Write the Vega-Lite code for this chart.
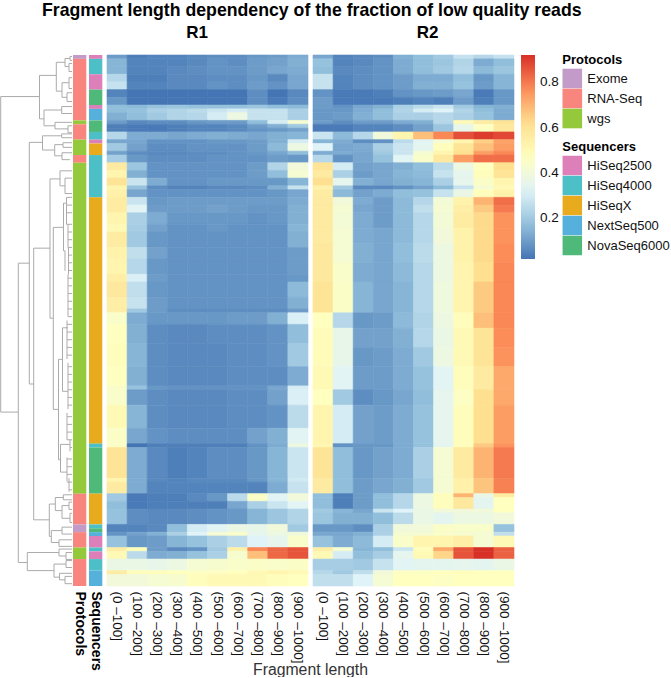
{
"$schema":"https://vega.github.io/schema/vega-lite/v6.json",
"padding":{"top":2,"left":0,"right":0,"bottom":0},
"background":"white",
"title":{"text":"Fragment length dependency of the fraction of low quality reads","font":"Liberation Sans","fontSize":17.7,"fontWeight":"bold","anchor":"start","frame":"bounds","dx":42,"offset":4,"color":"#000"},
"config":{"view":{"stroke":null},"font":"Liberation Sans","axis":{"labelFont":"Liberation Sans","titleFont":"Liberation Sans"},"legend":{"labelFont":"Liberation Sans","titleFont":"Liberation Sans"}},
"datasets":{
"R1":[
{"r0":0,"r1":1,"100":0.10,"200":0.04,"300":0.05,"400":0.05,"500":0.06,"600":0.07,"700":0.07,"800":0.09,"900":0.10,"1000":0.13},
{"r0":1,"r1":3,"100":0.15,"200":0.05,"300":0.05,"400":0.05,"500":0.06,"600":0.08,"700":0.07,"800":0.10,"900":0.11,"1000":0.14},
{"r0":3,"r1":5,"100":0.15,"200":0.05,"300":0.05,"400":0.06,"500":0.07,"600":0.08,"700":0.08,"800":0.10,"900":0.12,"1000":0.13},
{"r0":5,"r1":7,"100":0.24,"200":0.04,"300":0.04,"400":0.06,"500":0.06,"600":0.07,"700":0.07,"800":0.09,"900":0.06,"1000":0.12},
{"r0":7,"r1":9,"100":0.27,"200":0.05,"300":0.05,"400":0.06,"500":0.06,"600":0.08,"700":0.07,"800":0.10,"900":0.08,"1000":0.12},
{"r0":9,"r1":11,"100":0.05,"200":0.02,"300":0.02,"400":0.02,"500":0.02,"600":0.02,"700":0.02,"800":0.07,"900":0.02,"1000":0.06},
{"r0":11,"r1":13,"100":0.09,"200":0.02,"300":0.02,"400":0.02,"500":0.02,"600":0.02,"700":0.02,"800":0.07,"900":0.03,"1000":0.07},
{"r0":13,"r1":14,"100":0.17,"200":0.16,"300":0.18,"400":0.19,"500":0.18,"600":0.18,"700":0.18,"800":0.19,"900":0.17,"1000":0.16},
{"r0":14,"r1":15,"100":0.17,"200":0.18,"300":0.22,"400":0.23,"500":0.25,"600":0.28,"700":0.30,"800":0.27,"900":0.27,"1000":0.22},
{"r0":15,"r1":17,"100":0.14,"200":0.17,"300":0.20,"400":0.23,"500":0.24,"600":0.30,"700":0.38,"800":0.27,"900":0.27,"1000":0.22},
{"r0":17,"r1":18,"100":0.10,"200":0.06,"300":0.07,"400":0.07,"500":0.09,"600":0.10,"700":0.10,"800":0.17,"900":0.30,"1000":0.42},
{"r0":18,"r1":19,"100":0.04,"200":0.03,"300":0.03,"400":0.04,"500":0.05,"600":0.05,"700":0.06,"800":0.10,"900":0.14,"1000":0.20},
{"r0":19,"r1":20,"100":0.04,"200":0.03,"300":0.03,"400":0.04,"500":0.05,"600":0.05,"700":0.06,"800":0.08,"900":0.09,"1000":0.11},
{"r0":20,"r1":22,"100":0.24,"200":0.13,"300":0.13,"400":0.12,"500":0.13,"600":0.14,"700":0.13,"800":0.12,"900":0.14,"1000":0.15},
{"r0":22,"r1":23,"100":0.12,"200":0.12,"300":0.08,"400":0.08,"500":0.08,"600":0.09,"700":0.09,"800":0.10,"900":0.14,"1000":0.30},
{"r0":23,"r1":25,"100":0.20,"200":0.11,"300":0.07,"400":0.07,"500":0.08,"600":0.08,"700":0.08,"800":0.10,"900":0.16,"1000":0.38},
{"r0":25,"r1":26,"100":0.11,"200":0.07,"300":0.06,"400":0.06,"500":0.07,"600":0.07,"700":0.08,"800":0.09,"900":0.12,"1000":0.17},
{"r0":26,"r1":28,"100":0.21,"200":0.09,"300":0.07,"400":0.07,"500":0.07,"600":0.08,"700":0.08,"800":0.08,"900":0.10,"1000":0.09},
{"r0":28,"r1":30,"100":0.57,"200":0.19,"300":0.08,"400":0.08,"500":0.08,"600":0.08,"700":0.08,"800":0.10,"900":0.23,"1000":0.40},
{"r0":30,"r1":32,"100":0.52,"200":0.14,"300":0.08,"400":0.08,"500":0.08,"600":0.08,"700":0.08,"800":0.10,"900":0.17,"1000":0.42},
{"r0":32,"r1":34,"100":0.60,"200":0.28,"300":0.13,"400":0.08,"500":0.08,"600":0.09,"700":0.09,"800":0.09,"900":0.09,"1000":0.15},
{"r0":34,"r1":35,"100":0.52,"200":0.18,"300":0.07,"400":0.05,"500":0.05,"600":0.06,"700":0.06,"800":0.07,"900":0.14,"1000":0.27},
{"r0":35,"r1":37,"100":0.54,"200":0.12,"300":0.08,"400":0.08,"500":0.08,"600":0.08,"700":0.08,"800":0.08,"900":0.09,"1000":0.12},
{"r0":37,"r1":39,"100":0.56,"200":0.28,"300":0.09,"400":0.10,"500":0.10,"600":0.10,"700":0.10,"800":0.10,"900":0.10,"1000":0.13},
{"r0":39,"r1":41,"100":0.56,"200":0.33,"300":0.10,"400":0.10,"500":0.10,"600":0.11,"700":0.10,"800":0.09,"900":0.09,"1000":0.14},
{"r0":41,"r1":44,"100":0.52,"200":0.22,"300":0.13,"400":0.09,"500":0.09,"600":0.09,"700":0.09,"800":0.08,"900":0.09,"1000":0.14},
{"r0":44,"r1":46,"100":0.50,"200":0.21,"300":0.11,"400":0.08,"500":0.08,"600":0.09,"700":0.08,"800":0.08,"900":0.08,"1000":0.15},
{"r0":46,"r1":50,"100":0.56,"200":0.20,"300":0.09,"400":0.08,"500":0.08,"600":0.08,"700":0.08,"800":0.08,"900":0.08,"1000":0.14},
{"r0":50,"r1":53,"100":0.53,"200":0.26,"300":0.11,"400":0.08,"500":0.08,"600":0.08,"700":0.08,"800":0.08,"900":0.08,"1000":0.10},
{"r0":53,"r1":57,"100":0.52,"200":0.24,"300":0.09,"400":0.08,"500":0.08,"600":0.08,"700":0.08,"800":0.08,"900":0.08,"1000":0.10},
{"r0":57,"r1":59,"100":0.55,"200":0.31,"300":0.10,"400":0.08,"500":0.08,"600":0.08,"700":0.08,"800":0.08,"900":0.08,"1000":0.09},
{"r0":59,"r1":63,"100":0.58,"200":0.26,"300":0.09,"400":0.08,"500":0.08,"600":0.08,"700":0.08,"800":0.08,"900":0.08,"1000":0.16},
{"r0":63,"r1":66,"100":0.55,"200":0.27,"300":0.10,"400":0.08,"500":0.08,"600":0.08,"700":0.08,"800":0.08,"900":0.08,"1000":0.14},
{"r0":66,"r1":67,"100":0.55,"200":0.20,"300":0.10,"400":0.07,"500":0.07,"600":0.07,"700":0.07,"800":0.07,"900":0.07,"1000":0.10},
{"r0":67,"r1":70,"100":0.44,"200":0.13,"300":0.09,"400":0.09,"500":0.09,"600":0.09,"700":0.10,"800":0.10,"900":0.14,"1000":0.31},
{"r0":70,"r1":75,"100":0.47,"200":0.14,"300":0.07,"400":0.06,"500":0.06,"600":0.07,"700":0.07,"800":0.07,"900":0.08,"1000":0.17},
{"r0":75,"r1":81,"100":0.48,"200":0.15,"300":0.07,"400":0.06,"500":0.06,"600":0.06,"700":0.07,"800":0.07,"900":0.08,"1000":0.20},
{"r0":81,"r1":86,"100":0.47,"200":0.14,"300":0.07,"400":0.06,"500":0.06,"600":0.06,"700":0.07,"800":0.07,"900":0.07,"1000":0.13},
{"r0":86,"r1":87,"100":0.44,"200":0.18,"300":0.09,"400":0.08,"500":0.08,"600":0.08,"700":0.08,"800":0.08,"900":0.12,"1000":0.30},
{"r0":87,"r1":91,"100":0.44,"200":0.10,"300":0.07,"400":0.06,"500":0.06,"600":0.06,"700":0.07,"800":0.07,"900":0.11,"1000":0.31},
{"r0":91,"r1":97,"100":0.50,"200":0.15,"300":0.07,"400":0.06,"500":0.06,"600":0.06,"700":0.07,"800":0.07,"900":0.08,"1000":0.25},
{"r0":97,"r1":101,"100":0.45,"200":0.12,"300":0.08,"400":0.07,"500":0.07,"600":0.07,"700":0.07,"800":0.11,"900":0.14,"1000":0.33},
{"r0":101,"r1":102,"100":0.45,"200":0.02,"300":0.04,"400":0.04,"500":0.04,"600":0.04,"700":0.04,"800":0.08,"900":0.13,"1000":0.38},
{"r0":102,"r1":110,"100":0.60,"200":0.13,"300":0.06,"400":0.04,"500":0.05,"600":0.07,"700":0.07,"800":0.09,"900":0.15,"1000":0.28},
{"r0":110,"r1":111,"100":0.52,"200":0.13,"300":0.06,"400":0.05,"500":0.06,"600":0.06,"700":0.06,"800":0.09,"900":0.15,"1000":0.29},
{"r0":111,"r1":114,"100":0.57,"200":0.13,"300":0.05,"400":0.05,"500":0.05,"600":0.05,"700":0.05,"800":0.05,"900":0.13,"1000":0.27},
{"r0":114,"r1":116,"100":0.20,"200":0.03,"300":0.04,"400":0.04,"500":0.06,"600":0.09,"700":0.25,"800":0.45,"900":0.33,"1000":0.40},
{"r0":116,"r1":118,"100":0.17,"200":0.03,"300":0.04,"400":0.04,"500":0.04,"600":0.04,"700":0.12,"800":0.22,"900":0.28,"1000":0.33},
{"r0":118,"r1":122,"100":0.18,"200":0.07,"300":0.06,"400":0.06,"500":0.07,"600":0.08,"700":0.09,"800":0.15,"900":0.19,"1000":0.23},
{"r0":122,"r1":124,"100":0.05,"200":0.05,"300":0.06,"400":0.17,"500":0.30,"600":0.33,"700":0.37,"800":0.36,"900":0.40,"1000":0.20},
{"r0":124,"r1":125,"100":0.08,"200":0.11,"300":0.14,"400":0.22,"500":0.32,"600":0.42,"700":0.44,"800":0.35,"900":0.38,"1000":0.40},
{"r0":125,"r1":128,"100":0.18,"200":0.09,"300":0.10,"400":0.15,"500":0.18,"600":0.22,"700":0.25,"800":0.32,"900":0.35,"1000":0.44},
{"r0":128,"r1":129,"100":0.55,"200":0.48,"300":0.10,"400":0.06,"500":0.08,"600":0.20,"700":0.54,"800":0.78,"900":0.83,"1000":0.86},
{"r0":129,"r1":131,"100":0.50,"200":0.25,"300":0.13,"400":0.14,"500":0.18,"600":0.22,"700":0.43,"800":0.68,"900":0.83,"1000":0.86},
{"r0":131,"r1":134,"100":0.37,"200":0.37,"300":0.36,"400":0.38,"500":0.42,"600":0.43,"700":0.44,"800":0.45,"900":0.44,"1000":0.45},
{"r0":134,"r1":135,"100":0.56,"200":0.48,"300":0.48,"400":0.47,"500":0.46,"600":0.46,"700":0.47,"800":0.50,"900":0.52,"1000":0.50},
{"r0":135,"r1":138,"100":0.40,"200":0.40,"300":0.42,"400":0.43,"500":0.48,"600":0.50,"700":0.50,"800":0.50,"900":0.48,"1000":0.47}
],
"R2":[
{"r0":0,"r1":1,"100":0.12,"200":0.05,"300":0.06,"400":0.07,"500":0.14,"600":0.17,"700":0.20,"800":0.27,"900":0.24,"1000":0.27},
{"r0":1,"r1":3,"100":0.18,"200":0.05,"300":0.06,"400":0.08,"500":0.13,"600":0.17,"700":0.19,"800":0.23,"900":0.13,"1000":0.17},
{"r0":3,"r1":5,"100":0.17,"200":0.06,"300":0.07,"400":0.08,"500":0.13,"600":0.17,"700":0.20,"800":0.24,"900":0.16,"1000":0.19},
{"r0":5,"r1":7,"100":0.27,"200":0.05,"300":0.07,"400":0.08,"500":0.10,"600":0.13,"700":0.13,"800":0.17,"900":0.09,"1000":0.15},
{"r0":7,"r1":9,"100":0.27,"200":0.05,"300":0.07,"400":0.08,"500":0.10,"600":0.14,"700":0.14,"800":0.18,"900":0.10,"1000":0.15},
{"r0":9,"r1":11,"100":0.08,"200":0.03,"300":0.03,"400":0.04,"500":0.08,"600":0.09,"700":0.10,"800":0.12,"900":0.03,"1000":0.09},
{"r0":11,"r1":13,"100":0.10,"200":0.03,"300":0.03,"400":0.03,"500":0.04,"600":0.05,"700":0.04,"800":0.10,"900":0.04,"1000":0.09},
{"r0":13,"r1":14,"100":0.10,"200":0.08,"300":0.12,"400":0.14,"500":0.22,"600":0.25,"700":0.28,"800":0.20,"900":0.15,"1000":0.14},
{"r0":14,"r1":15,"100":0.09,"200":0.09,"300":0.13,"400":0.17,"500":0.23,"600":0.30,"700":0.32,"800":0.23,"900":0.17,"1000":0.13},
{"r0":15,"r1":17,"100":0.09,"200":0.10,"300":0.14,"400":0.17,"500":0.22,"600":0.22,"700":0.24,"800":0.22,"900":0.18,"1000":0.13},
{"r0":17,"r1":18,"100":0.10,"200":0.07,"300":0.10,"400":0.10,"500":0.13,"600":0.14,"700":0.24,"800":0.50,"900":0.56,"1000":0.60},
{"r0":18,"r1":20,"100":0.03,"200":0.03,"300":0.05,"400":0.05,"500":0.07,"600":0.11,"700":0.19,"800":0.36,"900":0.46,"1000":0.58},
{"r0":20,"r1":22,"100":0.28,"200":0.16,"300":0.24,"400":0.40,"500":0.52,"600":0.68,"700":0.78,"800":0.87,"900":0.90,"1000":0.88},
{"r0":22,"r1":23,"100":0.15,"200":0.13,"300":0.07,"400":0.08,"500":0.25,"600":0.33,"700":0.42,"800":0.52,"900":0.65,"1000":0.73},
{"r0":23,"r1":25,"100":0.32,"200":0.12,"300":0.13,"400":0.22,"500":0.28,"600":0.34,"700":0.48,"800":0.60,"900":0.68,"1000":0.74},
{"r0":25,"r1":26,"100":0.13,"200":0.13,"300":0.12,"400":0.20,"500":0.28,"600":0.42,"700":0.52,"800":0.62,"900":0.74,"1000":0.78},
{"r0":26,"r1":28,"100":0.24,"200":0.08,"300":0.12,"400":0.18,"500":0.33,"600":0.44,"700":0.58,"800":0.74,"900":0.82,"1000":0.82},
{"r0":28,"r1":30,"100":0.60,"200":0.30,"300":0.11,"400":0.12,"500":0.14,"600":0.17,"700":0.25,"800":0.38,"900":0.47,"1000":0.62},
{"r0":30,"r1":32,"100":0.57,"200":0.22,"300":0.10,"400":0.12,"500":0.15,"600":0.16,"700":0.27,"800":0.35,"900":0.48,"1000":0.60},
{"r0":32,"r1":34,"100":0.62,"200":0.35,"300":0.14,"400":0.12,"500":0.14,"600":0.15,"700":0.22,"800":0.35,"900":0.45,"1000":0.52},
{"r0":34,"r1":35,"100":0.54,"200":0.20,"300":0.06,"400":0.06,"500":0.08,"600":0.11,"700":0.16,"800":0.27,"900":0.42,"1000":0.50},
{"r0":35,"r1":37,"100":0.56,"200":0.16,"300":0.11,"400":0.13,"500":0.17,"600":0.18,"700":0.27,"800":0.37,"900":0.48,"1000":0.53},
{"r0":37,"r1":39,"100":0.57,"200":0.40,"300":0.13,"400":0.10,"500":0.16,"600":0.24,"700":0.41,"800":0.53,"900":0.70,"1000":0.82},
{"r0":39,"r1":41,"100":0.57,"200":0.42,"300":0.12,"400":0.10,"500":0.16,"600":0.26,"700":0.42,"800":0.55,"900":0.66,"1000":0.80},
{"r0":41,"r1":45,"100":0.57,"200":0.41,"300":0.13,"400":0.10,"500":0.16,"600":0.24,"700":0.41,"800":0.56,"900":0.63,"1000":0.76},
{"r0":45,"r1":49,"100":0.57,"200":0.42,"300":0.13,"400":0.12,"500":0.16,"600":0.24,"700":0.40,"800":0.53,"900":0.63,"1000":0.76},
{"r0":49,"r1":54,"100":0.58,"200":0.42,"300":0.14,"400":0.12,"500":0.17,"600":0.25,"700":0.38,"800":0.53,"900":0.63,"1000":0.77},
{"r0":54,"r1":59,"100":0.58,"200":0.44,"300":0.13,"400":0.12,"500":0.16,"600":0.24,"700":0.38,"800":0.52,"900":0.62,"1000":0.78},
{"r0":59,"r1":67,"100":0.60,"200":0.45,"300":0.15,"400":0.12,"500":0.15,"600":0.24,"700":0.39,"800":0.52,"900":0.66,"1000":0.78},
{"r0":67,"r1":71,"100":0.47,"200":0.24,"300":0.09,"400":0.10,"500":0.16,"600":0.23,"700":0.38,"800":0.48,"900":0.68,"1000":0.78},
{"r0":71,"r1":76,"100":0.49,"200":0.36,"300":0.11,"400":0.11,"500":0.14,"600":0.24,"700":0.37,"800":0.50,"900":0.60,"1000":0.77},
{"r0":76,"r1":81,"100":0.49,"200":0.36,"300":0.09,"400":0.10,"500":0.13,"600":0.20,"700":0.38,"800":0.50,"900":0.60,"1000":0.76},
{"r0":81,"r1":87,"100":0.50,"200":0.33,"300":0.10,"400":0.10,"500":0.13,"600":0.18,"700":0.33,"800":0.48,"900":0.57,"1000":0.72},
{"r0":87,"r1":91,"100":0.47,"200":0.20,"300":0.07,"400":0.09,"500":0.12,"600":0.17,"700":0.35,"800":0.46,"900":0.62,"1000":0.72},
{"r0":91,"r1":101,"100":0.52,"200":0.30,"300":0.11,"400":0.10,"500":0.13,"600":0.18,"700":0.35,"800":0.48,"900":0.62,"1000":0.74},
{"r0":101,"r1":102,"100":0.51,"200":0.08,"300":0.09,"400":0.09,"500":0.13,"600":0.18,"700":0.34,"800":0.48,"900":0.66,"1000":0.76},
{"r0":102,"r1":110,"100":0.60,"200":0.17,"300":0.09,"400":0.11,"500":0.13,"600":0.22,"700":0.42,"800":0.57,"900":0.70,"1000":0.80},
{"r0":110,"r1":114,"100":0.57,"200":0.17,"300":0.10,"400":0.12,"500":0.14,"600":0.20,"700":0.42,"800":0.54,"900":0.67,"1000":0.79},
{"r0":114,"r1":115,"100":0.17,"200":0.04,"300":0.10,"400":0.17,"500":0.24,"600":0.38,"700":0.48,"800":0.70,"900":0.37,"1000":0.56},
{"r0":115,"r1":118,"100":0.17,"200":0.04,"300":0.10,"400":0.17,"500":0.24,"600":0.38,"700":0.48,"800":0.58,"900":0.34,"1000":0.47},
{"r0":118,"r1":119,"100":0.20,"200":0.15,"300":0.12,"400":0.28,"500":0.32,"600":0.37,"700":0.40,"800":0.40,"900":0.40,"1000":0.47},
{"r0":119,"r1":122,"100":0.19,"200":0.14,"300":0.14,"400":0.17,"500":0.25,"600":0.37,"700":0.34,"800":0.38,"900":0.38,"1000":0.40},
{"r0":122,"r1":124,"100":0.09,"200":0.09,"300":0.07,"400":0.22,"500":0.40,"600":0.40,"700":0.45,"800":0.44,"900":0.44,"1000":0.18},
{"r0":124,"r1":125,"100":0.12,"200":0.12,"300":0.14,"400":0.22,"500":0.42,"600":0.42,"700":0.44,"800":0.43,"900":0.42,"1000":0.26},
{"r0":125,"r1":128,"100":0.18,"200":0.13,"300":0.16,"400":0.30,"500":0.44,"600":0.52,"700":0.52,"800":0.55,"900":0.42,"1000":0.50},
{"r0":128,"r1":129,"100":0.55,"200":0.42,"300":0.15,"400":0.17,"500":0.28,"600":0.48,"700":0.72,"800":0.86,"900":0.92,"1000":0.84},
{"r0":129,"r1":131,"100":0.50,"200":0.30,"300":0.17,"400":0.21,"500":0.35,"600":0.50,"700":0.64,"800":0.86,"900":0.92,"1000":0.84},
{"r0":131,"r1":134,"100":0.21,"200":0.21,"300":0.20,"400":0.27,"500":0.33,"600":0.34,"700":0.34,"800":0.35,"900":0.34,"1000":0.37},
{"r0":134,"r1":135,"100":0.24,"200":0.20,"300":0.26,"400":0.40,"500":0.46,"600":0.46,"700":0.47,"800":0.48,"900":0.47,"1000":0.47},
{"r0":135,"r1":138,"100":0.26,"200":0.26,"300":0.32,"400":0.42,"500":0.47,"600":0.47,"700":0.46,"800":0.47,"900":0.47,"1000":0.47}
],
"protocols":[
{"r0":0,"r1":1,"track":"Protocols","cat":"Exome"},
{"r0":1,"r1":17,"track":"Protocols","cat":"RNA-Seq"},
{"r0":17,"r1":18,"track":"Protocols","cat":"wgs"},
{"r0":18,"r1":22,"track":"Protocols","cat":"RNA-Seq"},
{"r0":22,"r1":26,"track":"Protocols","cat":"wgs"},
{"r0":26,"r1":28,"track":"Protocols","cat":"RNA-Seq"},
{"r0":28,"r1":114,"track":"Protocols","cat":"wgs"},
{"r0":114,"r1":122,"track":"Protocols","cat":"RNA-Seq"},
{"r0":122,"r1":124,"track":"Protocols","cat":"Exome"},
{"r0":124,"r1":128,"track":"Protocols","cat":"RNA-Seq"},
{"r0":128,"r1":131,"track":"Protocols","cat":"wgs"},
{"r0":131,"r1":138,"track":"Protocols","cat":"RNA-Seq"}
],
"sequencers":[
{"r0":0,"r1":1,"track":"Sequencers","cat":"HiSeq2500"},
{"r0":1,"r1":5,"track":"Sequencers","cat":"HiSeq4000"},
{"r0":5,"r1":9,"track":"Sequencers","cat":"HiSeq2500"},
{"r0":9,"r1":13,"track":"Sequencers","cat":"NovaSeq6000"},
{"r0":13,"r1":14,"track":"Sequencers","cat":"HiSeq2500"},
{"r0":14,"r1":17,"track":"Sequencers","cat":"NextSeq500"},
{"r0":17,"r1":20,"track":"Sequencers","cat":"NovaSeq6000"},
{"r0":20,"r1":22,"track":"Sequencers","cat":"HiSeq4000"},
{"r0":22,"r1":23,"track":"Sequencers","cat":"HiSeq2500"},
{"r0":23,"r1":26,"track":"Sequencers","cat":"HiSeqX"},
{"r0":26,"r1":37,"track":"Sequencers","cat":"HiSeq4000"},
{"r0":37,"r1":101,"track":"Sequencers","cat":"HiSeqX"},
{"r0":101,"r1":102,"track":"Sequencers","cat":"HiSeq4000"},
{"r0":102,"r1":114,"track":"Sequencers","cat":"NovaSeq6000"},
{"r0":114,"r1":122,"track":"Sequencers","cat":"HiSeqX"},
{"r0":122,"r1":123,"track":"Sequencers","cat":"HiSeq4000"},
{"r0":123,"r1":124,"track":"Sequencers","cat":"NovaSeq6000"},
{"r0":124,"r1":125,"track":"Sequencers","cat":"NextSeq500"},
{"r0":125,"r1":128,"track":"Sequencers","cat":"HiSeq2500"},
{"r0":128,"r1":129,"track":"Sequencers","cat":"HiSeq4000"},
{"r0":129,"r1":131,"track":"Sequencers","cat":"HiSeq2500"},
{"r0":131,"r1":134,"track":"Sequencers","cat":"HiSeq4000"},
{"r0":134,"r1":138,"track":"Sequencers","cat":"NextSeq500"}
],
"dendro":[
{"h":71.3,"h2":71.3,"r":10.8,"r2":92.8},{"h":71.3,"h2":32.5,"r":10.8,"r2":10.8},{"h":71.3,"h2":53.7,"r":92.8,"r2":92.8},
{"h":32.5,"h2":32.5,"r":5.3,"r2":16.6},{"h":32.5,"h2":15.7,"r":5.3,"r2":5.3},{"h":15.7,"h2":15.7,"r":1.9,"r2":9.4},
{"h":15.7,"h2":7,"r":1.9,"r2":1.9},{"h":7,"h2":7,"r":0.9,"r2":3},{"h":7,"h2":2,"r":0.9,"r2":0.9},{"h":2,"h2":2,"r":0.4,"r2":1.4},{"h":2,"h2":0,"r":0.4,"r2":0.4},{"h":2,"h2":0,"r":1.4,"r2":1.4},
{"h":7,"h2":3,"r":3,"r2":3},{"h":3,"h2":3,"r":2.2,"r2":4.3},{"h":3,"h2":0,"r":2.2,"r2":2.2},{"h":3,"h2":0,"r":4.3,"r2":4.3},
{"h":15.7,"h2":10,"r":9.4,"r2":9.4},{"h":10,"h2":10,"r":7.2,"r2":11},{"h":10,"h2":3,"r":7.2,"r2":7.2},{"h":3,"h2":3,"r":5.9,"r2":8.7},{"h":3,"h2":0,"r":5.9,"r2":5.9},{"h":3,"h2":0,"r":8.7,"r2":8.7},
{"h":10,"h2":5,"r":11,"r2":11},{"h":5,"h2":5,"r":9.8,"r2":12.1},{"h":5,"h2":0,"r":9.8,"r2":9.8},{"h":5,"h2":0,"r":12.1,"r2":12.1},
{"h":32.5,"h2":28,"r":16.6,"r2":16.6},{"h":28,"h2":28,"r":14.3,"r2":18.4},{"h":28,"h2":10.3,"r":14.3,"r2":14.3},{"h":10.3,"h2":10.3,"r":13.4,"r2":15.2},{"h":10.3,"h2":0,"r":13.4,"r2":13.4},{"h":10.3,"h2":0,"r":15.2,"r2":15.2},
{"h":28,"h2":17,"r":18.4,"r2":18.4},{"h":17,"h2":17,"r":17.5,"r2":19.2},{"h":17,"h2":0,"r":17.5,"r2":17.5},{"h":17,"h2":4,"r":19.2,"r2":19.2},{"h":4,"h2":4,"r":18.4,"r2":20.2},{"h":4,"h2":0,"r":18.4,"r2":18.4},{"h":4,"h2":0,"r":20.2,"r2":20.2},
{"h":53.7,"h2":53.7,"r":54.1,"r2":131.9},{"h":53.7,"h2":42.7,"r":54.1,"r2":54.1},{"h":42.7,"h2":42.7,"r":22.7,"r2":85.5},
{"h":42.7,"h2":29.5,"r":22.7,"r2":22.7},{"h":29.5,"h2":29.5,"r":21,"r2":24.7},{"h":29.5,"h2":10.3,"r":21,"r2":21},{"h":10.3,"h2":10.3,"r":20.5,"r2":21.5},{"h":10.3,"h2":0,"r":20.5,"r2":20.5},{"h":10.3,"h2":0,"r":21.5,"r2":21.5},
{"h":29.5,"h2":17.3,"r":24.7,"r2":24.7},{"h":17.3,"h2":17.3,"r":23.3,"r2":26.2},{"h":17.3,"h2":9,"r":23.3,"r2":23.3},{"h":9,"h2":9,"r":22.8,"r2":24},{"h":9,"h2":0,"r":22.8,"r2":22.8},{"h":9,"h2":0,"r":24,"r2":24},
{"h":17.3,"h2":10,"r":26.2,"r2":26.2},{"h":10,"h2":10,"r":25.4,"r2":27.2},{"h":10,"h2":0,"r":25.4,"r2":25.4},{"h":10,"h2":2,"r":27.2,"r2":27.2},
{"h":42.7,"h2":38.3,"r":85.5,"r2":85.5},{"h":38.3,"h2":38.3,"r":50.2,"r2":120.8},{"h":38.3,"h2":22,"r":50.2,"r2":50.2},{"h":22,"h2":22,"r":32.2,"r2":68.4},
{"h":22,"h2":12,"r":32.2,"r2":32.2},{"h":12,"h2":12,"r":30.1,"r2":34},{"h":12,"h2":0,"r":30.1,"r2":30.1},{"h":12,"h2":7,"r":34,"r2":34},{"h":7,"h2":7,"r":32,"r2":36},{"h":7,"h2":0,"r":32,"r2":32},{"h":7,"h2":0,"r":36,"r2":36},
{"h":22,"h2":18.7,"r":68.4,"r2":68.4},{"h":18.7,"h2":18.7,"r":44.8,"r2":92.1},{"h":18.7,"h2":8.5,"r":44.8,"r2":44.8},{"h":8.5,"h2":8.5,"r":38.5,"r2":50.9},{"h":8.5,"h2":5.5,"r":38.5,"r2":38.5},{"h":8.5,"h2":7,"r":50.9,"r2":50.9},{"h":7,"h2":7,"r":50.9,"r2":56.1},
{"h":18.7,"h2":13.5,"r":92.1,"r2":92.1},{"h":13.5,"h2":13.5,"r":79.1,"r2":105.2},{"h":13.5,"h2":9.5,"r":79.1,"r2":79.1},{"h":9.5,"h2":9.5,"r":70.9,"r2":87.4},{"h":13.5,"h2":11.5,"r":105.2,"r2":105.2},{"h":11.5,"h2":11.5,"r":101.2,"r2":108.4},{"h":11.5,"h2":2,"r":101.2,"r2":101.2},{"h":11.5,"h2":5,"r":108.4,"r2":108.4},{"h":5,"h2":5,"r":104.6,"r2":110.8},
{"h":5.5,"h2":5.5,"r":37,"r2":44},{"h":5.5,"h2":0,"r":37,"r2":37},{"h":5.5,"h2":0,"r":39,"r2":39},{"h":5.5,"h2":0,"r":41,"r2":41},{"h":5.5,"h2":0,"r":44,"r2":44},
{"h":4,"h2":4,"r":44,"r2":50},{"h":4,"h2":0,"r":46,"r2":46},{"h":4,"h2":0,"r":48,"r2":48},{"h":4,"h2":0,"r":50,"r2":50},
{"h":3.5,"h2":3.5,"r":50,"r2":57},{"h":3.5,"h2":0,"r":52,"r2":52},{"h":3.5,"h2":0,"r":54,"r2":54},{"h":3.5,"h2":0,"r":56,"r2":56},
{"h":4,"h2":4,"r":57,"r2":68},{"h":4,"h2":0,"r":58,"r2":58},{"h":4,"h2":0,"r":60,"r2":60},{"h":4,"h2":0,"r":62,"r2":62},{"h":4,"h2":0,"r":64,"r2":64},{"h":4,"h2":0,"r":66,"r2":66},{"h":4,"h2":0,"r":68,"r2":68},
{"h":9.5,"h2":4,"r":70.9,"r2":70.9},{"h":5,"h2":5,"r":69,"r2":79},{"h":5,"h2":0,"r":70,"r2":70},{"h":5,"h2":0,"r":72,"r2":72},{"h":5,"h2":0,"r":74,"r2":74},{"h":5,"h2":0,"r":76,"r2":76},{"h":5,"h2":0,"r":78,"r2":78},
{"h":9.5,"h2":4,"r":87.4,"r2":87.4},{"h":4,"h2":4,"r":80,"r2":92},{"h":4,"h2":0,"r":81,"r2":81},{"h":4,"h2":0,"r":83,"r2":83},{"h":4,"h2":0,"r":85,"r2":85},{"h":4,"h2":0,"r":87,"r2":87},{"h":4,"h2":0,"r":89,"r2":89},{"h":4,"h2":0,"r":91,"r2":91},
{"h":5,"h2":5,"r":93,"r2":100},{"h":5,"h2":0,"r":94,"r2":94},{"h":5,"h2":0,"r":96,"r2":96},{"h":5,"h2":0,"r":98,"r2":98},{"h":5,"h2":0,"r":100,"r2":100},
{"h":2,"h2":2,"r":100,"r2":103},{"h":2,"h2":0,"r":102,"r2":102},{"h":5,"h2":0,"r":105,"r2":105},{"h":5,"h2":0,"r":107,"r2":107},{"h":5,"h2":0,"r":109,"r2":109},{"h":5,"h2":0,"r":111,"r2":111},{"h":3,"h2":3,"r":110,"r2":113.5},{"h":3,"h2":0,"r":113,"r2":113},
{"h":38.3,"h2":22.7,"r":120.8,"r2":120.8},{"h":22.7,"h2":22.7,"r":116.7,"r2":125.1},{"h":22.7,"h2":16.7,"r":116.7,"r2":116.7},{"h":16.7,"h2":16.7,"r":115,"r2":118.4},{"h":16.7,"h2":8.7,"r":115,"r2":115},{"h":8.7,"h2":8.7,"r":114.3,"r2":115.6},{"h":8.7,"h2":0,"r":114.3,"r2":114.3},{"h":8.7,"h2":0,"r":115.6,"r2":115.6},
{"h":16.7,"h2":10,"r":118.4,"r2":118.4},{"h":10,"h2":10,"r":117.1,"r2":120.4},{"h":10,"h2":3,"r":117.1,"r2":117.1},{"h":3,"h2":3,"r":116.2,"r2":118.1},{"h":3,"h2":0,"r":116.2,"r2":116.2},{"h":3,"h2":0,"r":118.1,"r2":118.1},{"h":10,"h2":2,"r":120.4,"r2":120.4},{"h":2,"h2":2,"r":119.1,"r2":121.5},{"h":2,"h2":0,"r":119.1,"r2":119.1},{"h":2,"h2":0,"r":121.5,"r2":121.5},
{"h":22.7,"h2":20.7,"r":125.1,"r2":125.1},{"h":20.7,"h2":20.7,"r":123.6,"r2":126.7},{"h":20.7,"h2":10,"r":123.6,"r2":123.6},{"h":10,"h2":10,"r":122.7,"r2":124.5},{"h":10,"h2":0,"r":122.7,"r2":122.7},{"h":10,"h2":0,"r":124.5,"r2":124.5},{"h":20.7,"h2":13,"r":126.7,"r2":126.7},{"h":13,"h2":13,"r":126,"r2":127.7},{"h":13,"h2":0,"r":126,"r2":126},{"h":13,"h2":0,"r":127.7,"r2":127.7},
{"h":53.7,"h2":44.7,"r":131.9,"r2":131.9},{"h":44.7,"h2":44.7,"r":129.3,"r2":134},{"h":44.7,"h2":13,"r":129.3,"r2":129.3},{"h":13,"h2":13,"r":128.4,"r2":130.2},{"h":13,"h2":0,"r":128.4,"r2":128.4},{"h":13,"h2":6,"r":130.2,"r2":130.2},{"h":6,"h2":6,"r":129.3,"r2":131.1},{"h":6,"h2":0,"r":129.3,"r2":129.3},{"h":6,"h2":0,"r":131.1,"r2":131.1},
{"h":44.7,"h2":18,"r":134,"r2":134},{"h":18,"h2":18,"r":132.3,"r2":135.7},{"h":18,"h2":6,"r":132.3,"r2":132.3},{"h":6,"h2":6,"r":131.4,"r2":133.2},{"h":6,"h2":0,"r":131.4,"r2":131.4},{"h":6,"h2":0,"r":133.2,"r2":133.2},{"h":18,"h2":12.5,"r":135.7,"r2":135.7},{"h":12.5,"h2":12.5,"r":134.7,"r2":136.4},{"h":12.5,"h2":0,"r":134.7,"r2":134.7},{"h":12.5,"h2":7,"r":136.4,"r2":136.4},{"h":7,"h2":7,"r":135.5,"r2":137.4},{"h":7,"h2":0,"r":135.5,"r2":135.5},{"h":7,"h2":0,"r":137.4,"r2":137.4}
]
},
"bounds":"flush",
"spacing":6,
"hconcat":[
 {"width":67,"height":531,"data":{"name":"dendro"},"mark":{"type":"rule","color":"#ababab","strokeWidth":1},
  "encoding":{"x":{"field":"h","type":"quantitative","scale":{"domain":[72,0],"range":[0,72],"nice":false,"zero":false},"axis":null},"x2":{"field":"h2"},"y":{"field":"r","type":"quantitative","scale":{"domain":[0,138],"reverse":true,"nice":false,"zero":false},"axis":null},"y2":{"field":"r2"}}},
  {"width":10,"height":531,"data":{"name":"protocols"},"mark":{"type":"rect"},
   "encoding":{"x":{"field":"track","type":"nominal","scale":{"range":[0,13.3],"paddingInner":0,"paddingOuter":0},"axis":{"title":null,"labelAngle":90,"labelFontWeight":"bold","labelFontSize":14,"labelColor":"#000","ticks":false,"domain":false,"labelPadding":5}},
   "y":{"field":"r0","type":"quantitative","scale":{"domain":[0,138],"reverse":true,"nice":false,"zero":false},"axis":null},"y2":{"field":"r1"},
   "color":{"field":"cat","type":"nominal","scale":{"domain":["Exome","RNA-Seq","wgs"],"range":["#C39BC9","#F8857E","#95C93C"]},
    "legend":{"orient":"none","legendX":489.3,"legendY":-1.5,"title":"Protocols","titleFontSize":13,"titleFontWeight":"bold","titleColor":"#000","titlePadding":2,"labelFontSize":13,"labelColor":"#111","symbolType":"square","symbolSize":385,"symbolStrokeWidth":0,"rowPadding":0,"labelOffset":5}}}},
  {"width":12,"height":531,"data":{"name":"sequencers"},"mark":{"type":"rect"},
   "encoding":{"x":{"field":"track","type":"nominal","scale":{"range":[0,13.3],"paddingInner":0,"paddingOuter":0},"axis":{"title":null,"labelAngle":90,"labelFontWeight":"bold","labelFontSize":14,"labelColor":"#000","ticks":false,"domain":false,"labelPadding":5}},
   "y":{"field":"r0","type":"quantitative","scale":{"domain":[0,138],"reverse":true,"nice":false,"zero":false},"axis":null},"y2":{"field":"r1"},
   "color":{"field":"cat","type":"nominal","scale":{"domain":["HiSeq2500","HiSeq4000","HiSeqX","NextSeq500","NovaSeq6000"],"range":["#DD7FB8","#4DBFC6","#E8AB1E","#56B0DC","#4FB97A"]},
    "legend":{"orient":"none","legendX":473.3,"legendY":85.5,"title":"Sequencers","titleFontSize":13,"titleFontWeight":"bold","titleColor":"#000","titlePadding":2,"labelFontSize":13,"labelColor":"#111","symbolType":"square","symbolSize":380,"symbolStrokeWidth":0,"rowPadding":0,"labelOffset":5}}}},
 {"width":200,"height":531,"data":{"name":"R1"},"title":{"text":"R1","fontSize":17,"fontWeight":"bold","color":"#000","offset":13,"dx":-10},
  "transform":[{"fold":["100","200","300","400","500","600","700","800","900","1000"],"as":["bin","v"]}],
  "mark":{"type":"rect","strokeWidth":0.6},
  "encoding":{"x":{"field":"bin","type":"ordinal","scale":{"domain":["100","200","300","400","500","600","700","800","900","1000"],"range":[0,201],"paddingInner":0,"paddingOuter":0},
    "axis":{"title":"Fragment length","titleFontWeight":"normal","titleFontSize":15.8,"titleColor":"#333","titleX":203,"titleY":76,"labelAngle":90,"labelFontSize":13.5,"labelColor":"#111","ticks":false,"domain":false,"labelPadding":5,"labelExpr":"'(' + (toNumber(datum.value)-100) + ' –' + datum.value + ']'"}},
   "y":{"field":"r0","type":"quantitative","scale":{"domain":[0,138],"reverse":true,"nice":false,"zero":false},"axis":null},"y2":{"field":"r1"},
   "color":{"field":"v","type":"quantitative","scale":{"domain":[0.02,0.17,0.32,0.47,0.62,0.77,0.92],"range":["#4575B4","#91BFDB","#E0F3F8","#FFFFBF","#FEE090","#FC8D59","#D73027"],"interpolate":"rgb"},"legend":null},
   "stroke":{"field":"v","type":"quantitative","scale":{"domain":[0.02,0.17,0.32,0.47,0.62,0.77,0.92],"range":["#4575B4","#91BFDB","#E0F3F8","#FFFFBF","#FEE090","#FC8D59","#D73027"],"interpolate":"rgb"},"legend":null}}},
 {"width":201,"height":531,"data":{"name":"R2"},"title":{"text":"R2","fontSize":17,"fontWeight":"bold","color":"#000","offset":13,"dx":14},
  "transform":[{"fold":["100","200","300","400","500","600","700","800","900","1000"],"as":["bin","v"]}],
  "mark":{"type":"rect","strokeWidth":0.6},
  "encoding":{"x":{"field":"bin","type":"ordinal","scale":{"domain":["100","200","300","400","500","600","700","800","900","1000"],"paddingInner":0,"paddingOuter":0},
    "axis":{"title":null,"labelAngle":90,"labelFontSize":13.5,"labelColor":"#111","ticks":false,"domain":false,"labelPadding":5,"labelExpr":"'(' + (toNumber(datum.value)-100) + ' –' + datum.value + ']'"}},
   "y":{"field":"r0","type":"quantitative","scale":{"domain":[0,138],"reverse":true,"nice":false,"zero":false},"axis":null},"y2":{"field":"r1"},
   "stroke":{"field":"v","type":"quantitative","scale":{"domain":[0.02,0.17,0.32,0.47,0.62,0.77,0.92],"range":["#4575B4","#91BFDB","#E0F3F8","#FFFFBF","#FEE090","#FC8D59","#D73027"],"interpolate":"rgb"},"legend":null},
   "color":{"field":"v","type":"quantitative","scale":{"domain":[0.02,0.17,0.32,0.47,0.62,0.77,0.92],"range":["#4575B4","#91BFDB","#E0F3F8","#FFFFBF","#FEE090","#FC8D59","#D73027"],"interpolate":"rgb"},"legend":null}}},
 {"width":1,"height":531,"data":{"name":"R2"},
  "transform":[{"filter":"datum.r0 < 0"},{"fold":["100"],"as":["bin","v"]}],
  "mark":{"type":"rect"},
  "encoding":{
   "color":{"field":"v","type":"quantitative","scale":{"domain":[0.02,0.17,0.32,0.47,0.62,0.77,0.92],"range":["#4575B4","#91BFDB","#E0F3F8","#FFFFBF","#FEE090","#FC8D59","#D73027"],"interpolate":"rgb"},
    "legend":{"orient":"none","legendX":1,"legendY":0,"title":null,"gradientLength":204,"gradientThickness":14,"values":[0.2,0.4,0.6,0.8],"labelFontSize":13.5,"labelColor":"#111","gradientStrokeWidth":0,"labelOffset":5,"direction":"vertical","format":".1f"}}}}
],
"resolve":{"scale":{"color":"independent","stroke":"independent"}}
}
